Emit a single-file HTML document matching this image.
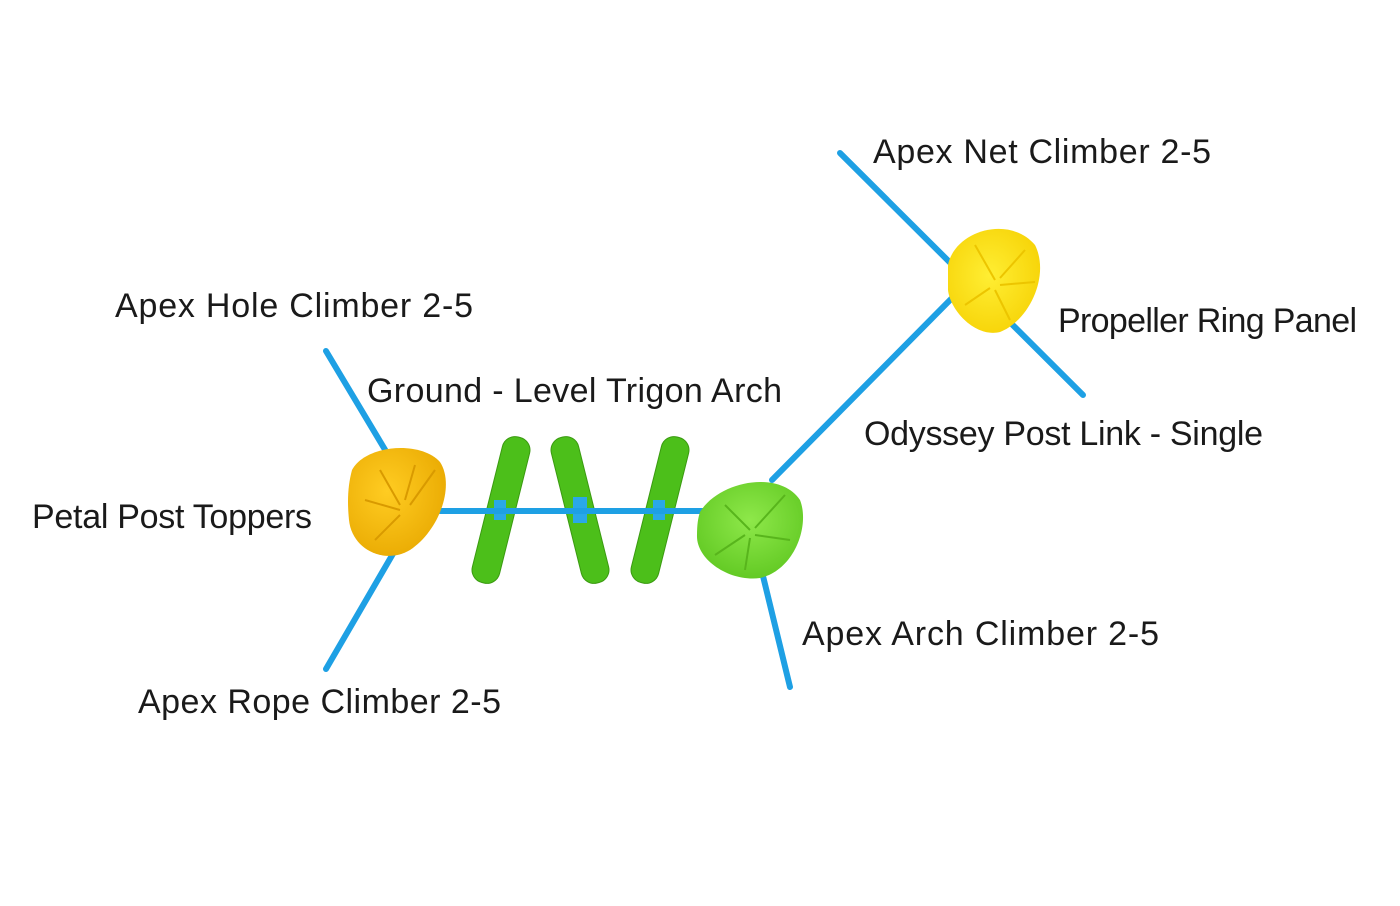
<!DOCTYPE html>
<html><head><meta charset="utf-8"><style>
html,body{margin:0;padding:0;background:#fff;}
svg{display:block;}
text{font-family:"Liberation Sans",sans-serif;font-size:34px;fill:#1a1a1a;}
</style></head><body>
<svg width="1400" height="906" viewBox="0 0 1400 906" xmlns="http://www.w3.org/2000/svg">
<defs>
<radialGradient id="yo" cx="0.4" cy="0.4" r="0.7"><stop offset="0" stop-color="#ffcc22"/><stop offset="1" stop-color="#e8a800"/></radialGradient>
<radialGradient id="yy" cx="0.45" cy="0.45" r="0.7"><stop offset="0" stop-color="#ffee33"/><stop offset="1" stop-color="#f5cf00"/></radialGradient>
<radialGradient id="gg" cx="0.5" cy="0.4" r="0.7"><stop offset="0" stop-color="#8ee84a"/><stop offset="1" stop-color="#5cc51e"/></radialGradient>
</defs>
<g stroke="#1ea0e4" stroke-width="6" stroke-linecap="round">
<line x1="326" y1="351" x2="390" y2="458"/>
<line x1="394" y1="552" x2="326" y2="669"/>
<line x1="440" y1="511" x2="720" y2="511"/>
<line x1="762" y1="572" x2="790" y2="687"/>
<line x1="772" y1="480" x2="955" y2="295"/>
<line x1="840" y1="153" x2="1083" y2="395"/>
</g>
<g fill="#4cbf1a" stroke="#3a9a10" stroke-width="1">
<rect x="487" y="435" width="28" height="150" rx="13" transform="rotate(14 501 510)"/>
<rect x="566" y="435" width="28" height="150" rx="13" transform="rotate(-14 580 510)"/>
<rect x="646" y="435" width="28" height="150" rx="13" transform="rotate(14 660 510)"/>
</g>
<g fill="#2aa8e8"><rect x="494" y="500" width="12" height="20"/><rect x="573" y="497" width="14" height="26"/><rect x="653" y="500" width="12" height="20"/></g>
<line x1="470" y1="511" x2="700" y2="511" stroke="#1ea0e4" stroke-width="6"/>
<path d="M352,470 C365,445 420,440 440,462 C455,485 440,530 410,550 C385,565 352,550 349,520 C347,500 348,485 352,470Z" fill="url(#yo)"/>
<g stroke="#d99a00" stroke-width="2" fill="none"><path d="M400,505 L380,470"/><path d="M405,500 L415,465"/><path d="M400,510 L365,500"/><path d="M400,515 L375,540"/><path d="M410,505 L435,470"/></g>
<path d="M700,512 C720,480 780,470 800,500 C810,525 795,570 760,578 C730,582 696,560 697,535 C697,525 698,518 700,512Z" fill="url(#gg)"/>
<g stroke="#58b51c" stroke-width="2" fill="none"><path d="M750,530 L725,505"/><path d="M755,528 L785,495"/><path d="M755,535 L790,540"/><path d="M750,538 L745,570"/><path d="M745,535 L715,555"/></g>
<path d="M948,265 C955,230 1010,215 1035,245 C1050,275 1030,320 1000,332 C975,338 950,310 948,290Z" fill="url(#yy)"/>
<g stroke="#ecc500" stroke-width="2" fill="none"><path d="M995,280 L975,245"/><path d="M1000,278 L1025,250"/><path d="M1000,285 L1035,282"/><path d="M995,290 L1010,320"/><path d="M990,288 L965,305"/></g>
<text x="873" y="163" textLength="338">Apex Net Climber 2-5</text>
<text x="1058" y="332" textLength="299">Propeller Ring Panel</text>
<text x="864" y="445" textLength="399">Odyssey Post Link - Single</text>
<text x="115" y="317" textLength="358">Apex Hole Climber 2-5</text>
<text x="367" y="402" textLength="415">Ground - Level Trigon Arch</text>
<text x="32" y="528" textLength="280">Petal Post Toppers</text>
<text x="802" y="645" textLength="357">Apex Arch Climber 2-5</text>
<text x="138" y="713" textLength="363">Apex Rope Climber 2-5</text>
</svg>
</body></html>
